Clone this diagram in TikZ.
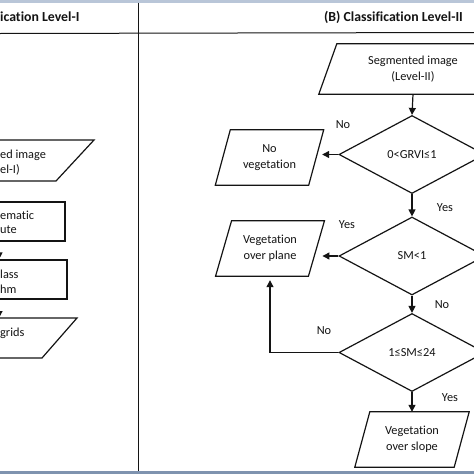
\documentclass[tikz,border=0pt]{standalone}
\usepackage{fontspec}
\setmainfont{Carlito}[Ligatures=NoCommon]
\usetikzlibrary{arrows.meta,shapes.geometric,calc}
\definecolor{ink}{HTML}{141414}
\definecolor{bandtop}{HTML}{B9C6D8}
\definecolor{bandbot}{HTML}{7F93AF}
\tikzset{
  body/.style={font=\fontsize{12.3}{16}\selectfont, text=ink, align=center, inner sep=0pt},
  box/.style={body, rectangle},
  dia/.style={body, diamond, draw=ink, line width=1.2pt, minimum width=146pt, minimum height=78pt},
  arr/.style={draw=ink, line width=1.2pt, -{Triangle[length=7pt,width=7pt]}},
  outline/.style={draw=ink, line width=1.2pt},
  lbl/.style={body},
  frag/.style={body, anchor=west, align=left},
  head/.style={font=\bfseries\fontsize{13.8}{16}\selectfont, text=ink, inner sep=0pt},
  rule/.style={draw=ink, line width=1pt}
}
\newcommand{\pgram}[2]{\draw[outline] ($(#1.south west)+(-#2/2,0)$) -- ($(#1.north west)+(#2/2,0)$) -- ($(#1.north east)+(#2/2,0)$) -- ($(#1.south east)+(-#2/2,0)$) -- cycle;}
\begin{document}
\begin{tikzpicture}[x=1pt,y=-1pt]
\useasboundingbox (0,0) rectangle (474,474);
\clip (0,0) rectangle (474,474);
\fill[white] (0,0) rectangle (474,474);
% bands
\fill[bandtop] (0,0) rectangle (474,2.5);
\fill[bandbot] (0,471) rectangle (474,474);
% header and divider
\draw[rule] (0,33.5) -- (474,32.5);
\draw[rule] (138.5,2.5) -- (138.5,471);
\node[head, anchor=west] (hA) at (0,17) {ication Level-I};
\node[head] (hB) at (393.5,17) {(B) Classification Level-II};

% ---- left panel (cropped) ----
\draw[outline] (-5,140) -- (94,140) -- (56,181) -- (-5,181);
\node[frag] (t1a) at (0,155) {ed image};
\node[frag] (t1b) at (0,170) {el-I)};
\node[box, draw=ink, line width=1.2pt, minimum width=130pt, minimum height=39pt] (ta) at (0,221.5) {};
\node[frag] (t2a) at (0,215) {ematic};
\node[frag] (t2b) at (0,230) {ute};
\node[box, draw=ink, line width=1.2pt, minimum width=134pt, minimum height=39pt] (ca) at (0,279.5) {};
\node[frag] (t3a) at (0,274) {lass};
\node[frag] (t3b) at (0,289) {hm};
\draw[outline] (-5,318) -- (77,318) -- (42,358) -- (-5,358);
\coordinate (grtop) at (-1,318);
\node[frag] (t4) at (0,333) {grids};
\draw[arr] ([xshift=-1pt]ta.south) -- ([xshift=-1pt]ca.north);
\draw[arr] ([xshift=-1pt]ca.south) -- (grtop);

% ---- right panel ----
\node[box, minimum width=170pt, minimum height=50pt] (seg2) at (413,69) {Segmented image\\(Level-II)};
\pgram{seg2}{18}
\node[dia] (d1) at (412,154.5) {0<GRVI≤1};
\node[box, minimum width=93pt, minimum height=55pt] (nveg) at (269.5,157.5) {No\\vegetation};
\pgram{nveg}{15}
\node[dia] (d2) at (412,256) {SM<1};
\node[box, minimum width=92.5pt, minimum height=55pt] (vplane) at (270,248.5) {Vegetation\\over plane};
\pgram{vplane}{16}
\node[dia] (d3) at (412,352.5) {1≤SM≤24};
\node[box, minimum width=99pt, minimum height=55pt] (vslope) at (412,439.5) {Vegetation\\over slope};
\pgram{vslope}{15}

% connectors
\draw[arr] (seg2.south) -- (d1.north);
\draw[arr] (d1.west) -- ([xshift=6pt]nveg.east |- d1.west);
\draw[arr] (d1.south) -- (d2.north);
\draw[arr] (d2.west) -- ([xshift=6pt]vplane.east |- d2.west);
\draw[arr] (d2.south) -- (d3.north);
\draw[arr] (d3.west) -| ([yshift=-4pt]vplane.south);
\draw[arr] (d3.south) -- (vslope.north);

% labels
\node[lbl] (lno1) at (343,125) {No};
\node[lbl] (lyes1) at (445,208) {Yes};
\node[lbl] (lyes2) at (347,225) {Yes};
\node[lbl] (lno2) at (442,305) {No};
\node[lbl] (lno3) at (324,331) {No};
\node[lbl] (lyes3) at (450,398) {Yes};
\end{tikzpicture}
\end{document}
